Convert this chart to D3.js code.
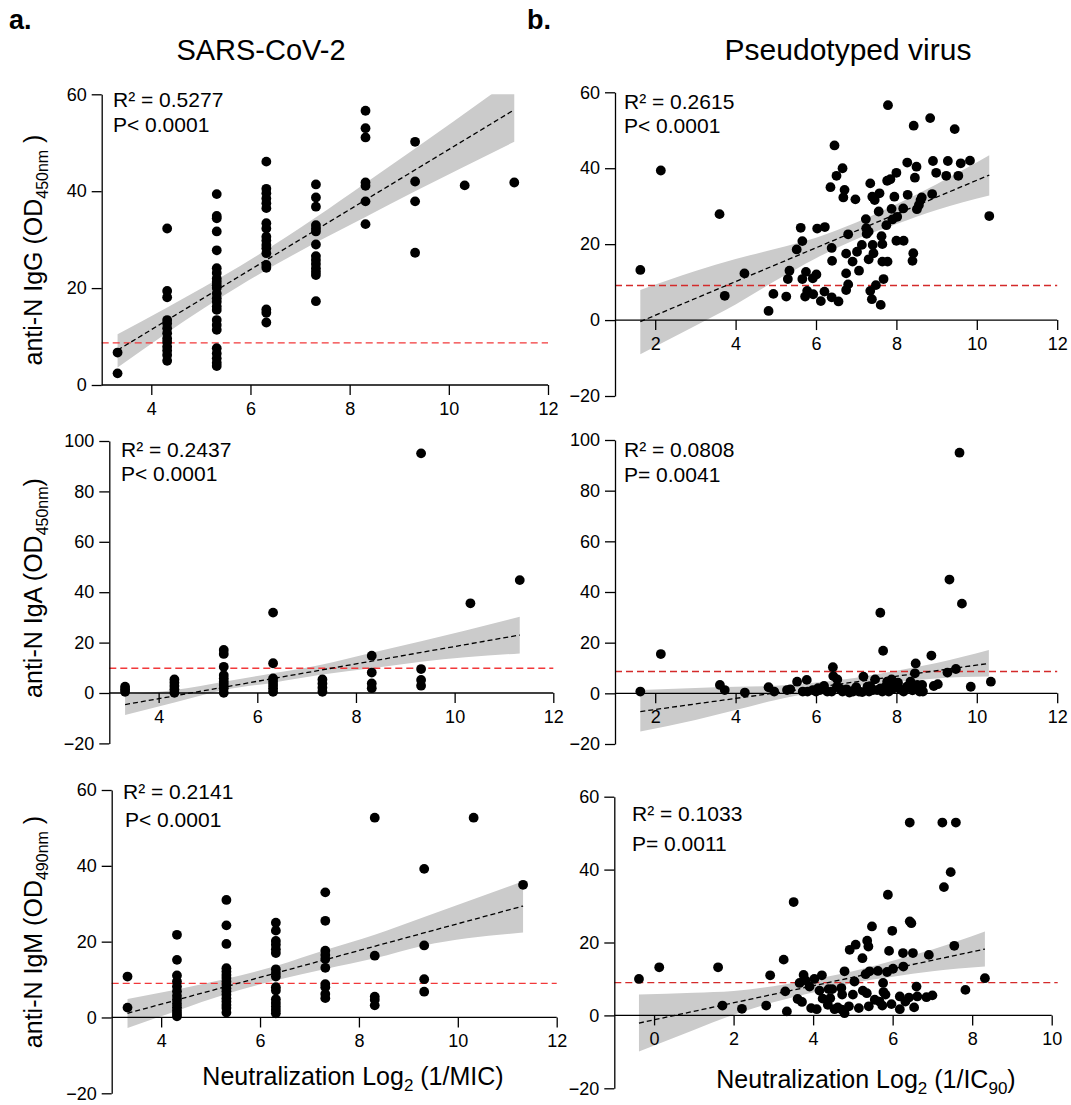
<!DOCTYPE html>
<html>
<head>
<meta charset="utf-8">
<script src="https://cdn.jsdelivr.net/npm/d3@7.9.0/dist/d3.min.js"></script>
<style>
  body { margin: 0; background: #fff; }
  svg { display: block; font-family: 'Liberation Sans', Arial, sans-serif; }
  .axis path, .axis line { stroke: #000; stroke-width: 1.3; }
  .axis text { font-family: 'Liberation Sans', Arial, sans-serif; font-size: 18px; fill: #000; }
</style>
</head>
<body>
<svg id="chart" width="1071" height="1105"></svg>
<script>
// ---- data ----
// SARS-CoV-2 panels: x is the log2 dilution column, y values per column
const micCols = [3.32, 4.32, 5.32, 6.32, 7.32, 8.32, 9.32, 10.32, 11.32];

const sarsIgG = [
  [6.7, 2.4],
  [32.3, 19.4, 18.1, 13.4, 12.7, 11.7, 10.7, 9.6, 8.9, 7.9, 7.1, 6.2, 5.0],
  [39.4, 34.9, 34.4, 31.7, 27.8, 24.1, 23.1, 22.0, 21.3, 20.6, 20.0, 18.9, 17.9, 17.2, 16.2, 15.5, 13.4, 12.4, 11.4, 7.6, 6.5, 5.5, 4.6, 3.9],
  [46.1, 40.5, 39.6, 38.5, 37.5, 36.5, 33.4, 32.3, 30.6, 29.8, 28.9, 28.2, 27.2, 24.8, 24.2, 15.6, 14.9, 12.9],
  [41.4, 38.7, 36.8, 33.0, 32.3, 31.7, 29.0, 26.6, 25.8, 25.0, 24.1, 23.4, 22.7, 17.3],
  [56.6, 53.0, 51.1, 41.8, 41.1, 37.9, 33.2],
  [50.2, 42.0, 37.9, 27.3],
  [41.2],
  [41.8]
];

const sarsIgA = [
  [2.5, 1.5, 0.5],
  [5.4, 4.1, 2.8, 1.5, 0.1],
  [17.1, 15.5, 10.4, 7.1, 5.8, 4.5, 3.2, 1.9, 0.1],
  [31.9, 11.8, 5.8, 4.5, 3.2, 1.9, 0.5],
  [5.4, 3.8, 2.1, 0.5],
  [14.8, 8.1, 3.8, 1.9],
  [95.1, 9.5, 5.2, 2.9],
  [35.6],
  [44.8]
];

const sarsIgM = [
  [10.8, 2.6],
  [21.8, 15.2, 11.1, 9.5, 8.2, 6.9, 5.7, 4.7, 3.6, 2.7, 1.8, 1.0, 0.3],
  [31.0, 24.3, 19.4, 13.0, 12.1, 11.2, 10.4, 9.5, 8.6, 7.7, 6.9, 6.0, 5.1, 4.2, 3.3, 2.5, 1.3],
  [25.0, 22.9, 20.2, 19.2, 18.0, 17.0, 12.7, 11.7, 10.8, 8.0, 7.1, 4.8, 3.8, 2.9, 2.0, 1.1],
  [33.0, 25.5, 17.6, 16.5, 15.4, 13.1, 8.8, 8.0, 6.2, 5.1],
  [52.7, 16.3, 5.5, 4.7, 3.2],
  [39.2, 19.0, 10.1, 6.8],
  [52.7],
  [35.0]
];

// Pseudotyped virus panels: [log2(1/IC90), OD]
const pseudoIgG = [
  [1.63, 13.2], [2.14, 39.4], [3.60, 27.9], [3.73, 6.4], [4.22, 12.3], [4.82, 2.4], [4.94, 6.9],
  [5.26, 6.2], [5.34, 13.0], [5.30, 10.8], [5.52, 18.6], [5.62, 24.3], [5.66, 20.8], [5.66, 10.8],
  [5.75, 12.7], [5.73, 6.2], [5.78, 7.7], [5.93, 6.8], [5.92, 11.0], [6.01, 12.0], [6.03, 24.1],
  [6.22, 24.5], [6.12, 5.0], [6.21, 7.5], [6.39, 19.0], [6.40, 15.6], [6.36, 35.0], [6.39, 6.0],
  [6.46, 46.0], [6.51, 38.0], [6.56, 4.9], [6.66, 40.0], [6.71, 34.3], [6.68, 32.3], [6.75, 17.5],
  [6.75, 12.3], [6.80, 9.4], [6.75, 7.9], [6.80, 22.6], [6.91, 15.4], [6.98, 31.8], [7.02, 18.0],
  [7.07, 13.0], [7.14, 19.8], [7.24, 26.6], [7.25, 24.2], [7.26, 22.7], [7.31, 23.3], [7.31, 16.0],
  [7.35, 36.0], [7.35, 7.7], [7.39, 5.5], [7.40, 32.5], [7.41, 19.8], [7.43, 17.6], [7.46, 31.6],
  [7.49, 9.2], [7.56, 28.6], [7.58, 33.4], [7.61, 4.0], [7.63, 22.1], [7.65, 20.0], [7.65, 15.4],
  [7.68, 10.8], [7.78, 15.4], [7.75, 25.0], [7.79, 56.6], [7.77, 36.7], [7.85, 37.1], [7.88, 29.3],
  [7.90, 26.5], [7.95, 32.5], [8.00, 38.8], [8.02, 27.2], [8.00, 20.9], [8.18, 20.9], [8.17, 29.4],
  [8.27, 41.5], [8.28, 33.0], [8.43, 51.2], [8.42, 17.6], [8.40, 15.6], [8.46, 37.5], [8.50, 40.4],
  [8.51, 29.2], [8.56, 30.3], [8.60, 31.6], [8.63, 32.3], [8.84, 53.2], [8.89, 33.2], [8.91, 41.9],
  [8.99, 38.8], [9.24, 38.0], [9.28, 41.9], [9.45, 50.3], [9.54, 38.0], [9.60, 41.3], [9.83, 42.0],
  [10.31, 27.4]
];

const pseudoIgA = [
  [1.63, 0.7], [2.14, 15.5], [3.61, 3.3], [3.73, 1.3], [4.23, 0.3], [4.82, 2.4], [4.96, 0.7],
  [5.28, 1.3], [5.36, 1.6], [5.53, 4.6], [5.67, 0.7], [5.77, 5.3], [5.79, 0.7], [5.92, 1.3],
  [6.00, 0.7], [6.05, 2.0], [6.10, 1.3], [6.20, 2.9], [6.28, 0.7], [6.39, 0.7], [6.42, 10.3],
  [6.43, 6.8], [6.53, 5.5], [6.52, 2.6], [6.60, 1.8], [6.66, 0.7], [6.76, 1.6], [6.83, 0.3],
  [6.92, 0.7], [6.95, 1.2], [7.00, 2.4], [7.07, 0.7], [7.15, 0.5], [7.18, 6.6], [7.28, 2.6],
  [7.32, 0.7], [7.35, 2.8], [7.42, 1.3], [7.47, 5.5], [7.52, 1.3], [7.60, 31.8], [7.60, 1.9],
  [7.65, 0.7], [7.67, 16.8], [7.73, 2.6], [7.77, 4.6], [7.81, 0.7], [7.85, 3.2], [7.88, 5.5],
  [7.94, 2.0], [8.04, 4.2], [8.10, 1.5], [8.18, 0.7], [8.26, 2.6], [8.35, 4.6], [8.40, 1.2],
  [8.46, 7.9], [8.48, 11.8], [8.52, 3.3], [8.58, 0.7], [8.64, 3.3], [8.66, 0.7], [8.87, 14.9],
  [8.93, 2.9], [9.03, 3.6], [9.27, 8.2], [9.32, 44.9], [9.48, 9.6], [9.57, 95.0], [9.63, 35.4],
  [9.85, 2.6], [10.35, 4.6]
];

const pseudoIgM = [
  [-0.38, 10.0], [0.13, 13.2], [1.61, 13.2], [1.72, 2.7], [2.21, 1.8], [2.82, 2.7], [2.92, 11.0],
  [3.26, 15.3], [3.30, 6.6], [3.34, 1.1], [3.51, 31.1], [3.61, 4.5], [3.66, 8.9], [3.72, 3.7],
  [3.76, 11.1], [3.81, 9.6], [3.91, 7.9], [3.95, 2.0], [4.03, 10.0], [4.09, 1.7], [4.16, 6.8],
  [4.22, 11.0], [4.24, 4.6], [4.37, 2.9], [4.39, 7.2], [4.48, 7.2], [4.43, 4.7], [4.54, 1.7],
  [4.62, 2.2], [4.71, 7.5], [4.73, 5.7], [4.72, 1.6], [4.79, 12.1], [4.79, 0.6], [4.90, 2.5],
  [4.92, 18.0], [5.00, 5.7], [5.04, 9.3], [5.07, 19.4], [5.15, 2.0], [5.24, 15.7], [5.25, 6.8],
  [5.32, 11.3], [5.35, 6.1], [5.36, 20.5], [5.39, 18.9], [5.40, 2.5], [5.42, 12.1], [5.48, 24.4],
  [5.55, 4.3], [5.63, 12.2], [5.67, 3.8], [5.74, 2.7], [5.76, 8.9], [5.77, 6.4], [5.82, 5.7],
  [5.86, 11.9], [5.88, 33.1], [5.91, 17.7], [5.97, 3.1], [5.99, 23.2], [6.01, 12.8], [6.18, 1.7],
  [6.18, 5.2], [6.26, 17.1], [6.27, 13.4], [6.32, 3.8], [6.41, 4.9], [6.43, 52.9], [6.43, 25.8],
  [6.47, 25.3], [6.51, 17.1], [6.54, 2.2], [6.60, 7.9], [6.62, 5.2], [6.85, 5.0], [6.91, 16.6],
  [7.00, 5.5], [7.25, 52.9], [7.29, 35.2], [7.46, 39.3], [7.55, 19.1], [7.59, 52.9], [7.83, 7.0],
  [8.32, 10.2]
];

// fitted lines [x, y] at both ends, and 95% band [x, lower, upper]
const fitSarsIgG = [[3.32, 7.2], [11.32, 56.8]];
const fitSarsIgA = [[3.32, -4.6], [11.32, 23.0]];
const fitSarsIgM = [[3.32, 1.1], [11.32, 29.4]];
const fitPseudoIgG = [[1.63, -0.4], [10.31, 38.2]];
const fitPseudoIgA = [[1.63, -7.2], [10.3, 11.8]];
const fitPseudoIgM = [[-0.38, -2.1], [8.32, 18.2]];

const bandSarsIgG = [[3.32, 3.6, 10.5], [4.32, 10.8, 16.0], [5.8, 20.6, 24.6], [7.32, 29.4, 34.6], [8.32, 34.7, 41.7], [9.32, 40.0, 48.8], [11.32, 50.2, 63.4]];
const bandSarsIgA = [[3.32, -8.7, -0.5], [4.32, -3.8, 1.2], [5.32, 1.2, 4.5], [6.32, 4.1, 7.8], [7.32, 7.3, 11.3], [8.32, 9.8, 16.0], [9.32, 12.4, 20.5], [11.32, 15.7, 30.3]];
const bandSarsIgM = [[3.32, -2.8, 4.9], [4.32, 1.8, 7.4], [5.32, 6.2, 10.2], [6.32, 9.8, 13.6], [7.32, 12.8, 17.8], [8.32, 15.6, 21.8], [9.32, 19.0, 26.5], [11.32, 22.4, 35.9]];
const bandPseudoIgG = [[1.63, -9.0, 7.9], [3, -1.5, 12.9], [4, 4.1, 16.1], [5, 10.4, 18.8], [6, 16.3, 21.7], [7, 21.3, 25.7], [8, 25.3, 30.5], [9, 29.0, 35.8], [10.31, 32.8, 43.4]];
const bandPseudoIgA = [[1.63, -15.1, 1.3], [3, -10.5, 2.1], [4, -6.6, 2.6], [5, -2.6, 3.0], [6, 0.4, 4.3], [7, 2.9, 6.2], [8, 4.6, 8.9], [9, 5.9, 12.0], [10.3, 6.6, 17.1]];
const bandPseudoIgM = [[-0.38, -9.9, 5.7], [1, -4.0, 6.2], [2, 0.2, 6.7], [3, 3.6, 8.0], [4, 6.3, 9.9], [5, 8.9, 12.1], [6, 10.6, 15.0], [7, 12.1, 18.1], [8.32, 13.4, 23.0]];

// cut-off values (red dashed lines)
const cutoffs = { sarsIgG: 8.7, sarsIgA: 9.8, sarsIgM: 9.0, pseudoIgG: 9.1, pseudoIgA: 8.6, pseudoIgM: 9.0 };

const stats = {
  sarsIgG: ['R\u00b2 = 0.5277', 'P< 0.0001'],
  sarsIgA: ['R\u00b2 = 0.2437', 'P< 0.0001'],
  sarsIgM: ['R\u00b2 = 0.2141', 'P< 0.0001'],
  pseudoIgG: ['R\u00b2 = 0.2615', 'P< 0.0001'],
  pseudoIgA: ['R\u00b2 = 0.0808', 'P= 0.0041'],
  pseudoIgM: ['R\u00b2 = 0.1033', 'P= 0.0011']
};

const xTicksSars = [4, 6, 8, 10, 12];
const xTicksPseudo = [2, 4, 6, 8, 10, 12];
const xTicksPseudoIgM = [0, 2, 4, 6, 8, 10];
const yTicks60 = [0, 20, 40, 60];
const yTicks100 = [-20, 0, 20, 40, 60, 80, 100];
const yTicksNeg60 = [-20, 0, 20, 40, 60];

function columnsToPoints(cols) {
  return cols.flatMap((ys, i) => ys.map((y) => [micCols[i], y]));
}

const svg = d3.select('#chart');

// panel layout
const panels = [
  { key: 'sarsIgG', points: columnsToPoints(sarsIgG), fit: fitSarsIgG, band: bandSarsIgG,
    left: 101.7, right: 548, top: 94.3, bottom: 385, xDomain: [3, 12], yDomain: [0, 60],
    xTicks: xTicksSars, yTicks: yTicks60, statX: 113, statY: 107, statGap: 25 },
  { key: 'sarsIgA', points: columnsToPoints(sarsIgA), fit: fitSarsIgA, band: bandSarsIgA,
    left: 109.3, right: 553.3, top: 441, bottom: 743.4, xDomain: [3, 12], yDomain: [-20, 100],
    xTicks: xTicksSars, yTicks: yTicks100, statX: 121, statY: 457, statGap: 24 },
  { key: 'sarsIgM', points: columnsToPoints(sarsIgM), fit: fitSarsIgM, band: bandSarsIgM,
    left: 111.7, right: 556.7, top: 790, bottom: 1093.3, xDomain: [3, 12], yDomain: [-20, 60],
    xTicks: xTicksSars, yTicks: yTicksNeg60, statX: 123, statY: 799, statGap: 28 },
  { key: 'pseudoIgG', points: pseudoIgG, fit: fitPseudoIgG, band: bandPseudoIgG,
    left: 615, right: 1057.2, top: 92.3, bottom: 396, xDomain: [1, 12], yDomain: [-20, 60],
    xTicks: xTicksPseudo, yTicks: yTicksNeg60, statX: 624, statY: 109, statGap: 24 },
  { key: 'pseudoIgA', points: pseudoIgA, fit: fitPseudoIgA, band: bandPseudoIgA,
    left: 615, right: 1057.2, top: 440, bottom: 744, xDomain: [1, 12], yDomain: [-20, 100],
    xTicks: xTicksPseudo, yTicks: yTicks100, statX: 624, statY: 457, statGap: 25 },
  { key: 'pseudoIgM', points: pseudoIgM, fit: fitPseudoIgM, band: bandPseudoIgM,
    left: 614.3, right: 1051.7, top: 796.7, bottom: 1088.3, xDomain: [-1, 10], yDomain: [-20, 60],
    xTicks: xTicksPseudoIgM, yTicks: yTicksNeg60, statX: 632, statY: 821, statGap: 30 }
];

function drawPanel(p, i) {
  const x = d3.scaleLinear().domain(p.xDomain).range([p.left, p.right]);
  const y = d3.scaleLinear().domain(p.yDomain).range([p.bottom, p.top]);
  const g = svg.append('g');

  const clipId = 'clip' + i;
  g.append('clipPath').attr('id', clipId)
    .append('rect')
    .attr('x', p.left).attr('y', p.top)
    .attr('width', p.right - p.left).attr('height', p.bottom - p.top);

  // confidence band
  const area = d3.area()
    .x((d) => x(d[0]))
    .y0((d) => y(d[1]))
    .y1((d) => y(d[2]))
    .curve(d3.curveMonotoneX);
  g.append('path')
    .datum(p.band)
    .attr('clip-path', `url(#${clipId})`)
    .attr('fill', '#cbcbcb')
    .attr('d', area);

  // cut-off
  const isPseudo = p.key.startsWith('pseudo');
  g.append('line')
    .attr('x1', p.left).attr('x2', p.right + (p.key === 'pseudoIgM' ? 6 : 0))
    .attr('y1', y(cutoffs[p.key])).attr('y2', y(cutoffs[p.key]))
    .attr('stroke', isPseudo ? '#d42a2a' : '#f2383a')
    .attr('stroke-width', 1.4)
    .attr('stroke-dasharray', '7,4');

  // axes
  g.append('g')
    .attr('class', 'axis')
    .attr('transform', `translate(0,${y(0)})`)
    .call(d3.axisBottom(x).tickValues(p.xTicks).tickSize(10).tickPadding(7).tickSizeOuter(0))
    .call((a) => a.select('.domain').attr('d', `M${p.left},0H${p.right}`));

  g.append('g')
    .attr('class', 'axis')
    .attr('transform', `translate(${p.left},0)`)
    .call(d3.axisLeft(y).tickValues(p.yTicks).tickSize(10).tickPadding(5).tickSizeOuter(0));

  // dots
  g.append('g')
    .selectAll('circle')
    .data(p.points)
    .join('circle')
    .attr('cx', (d) => x(d[0]))
    .attr('cy', (d) => y(d[1]))
    .attr('r', 4.9)
    .attr('fill', '#000');

  // regression line
  g.append('line')
    .attr('x1', x(p.fit[0][0])).attr('y1', y(p.fit[0][1]))
    .attr('x2', x(p.fit[1][0])).attr('y2', y(p.fit[1][1]))
    .attr('stroke', '#000')
    .attr('stroke-width', 1.3)
    .attr('stroke-dasharray', '5,3');

  // stats text
  const st = g.append('text')
    .attr('font-size', 21)
    .attr('fill', '#000');
  st.append('tspan').attr('x', p.statX).attr('y', p.statY).text(stats[p.key][0]);
  st.append('tspan').attr('x', p.statX + (p.key === 'sarsIgM' ? 2 : 0)).attr('y', p.statY + p.statGap).text(stats[p.key][1]);
}

panels.forEach(drawPanel);

// panel letters and column titles
svg.append('text').attr('x', 9).attr('y', 29).attr('font-size', 27).attr('font-weight', 'bold').text('a.');
svg.append('text').attr('x', 527).attr('y', 29).attr('font-size', 27).attr('font-weight', 'bold').text('b.');
svg.append('text').attr('x', 261).attr('y', 60).attr('font-size', 29).attr('text-anchor', 'middle').text('SARS-CoV-2');
svg.append('text').attr('x', 848).attr('y', 60).attr('font-size', 30).attr('text-anchor', 'middle').text('Pseudotyped virus');

// y-axis labels
const yLabels = [
  { pre: 'anti-N IgG (OD', sub: '450nm', post: ' )', cy: 250 },
  { pre: 'anti-N IgA (OD', sub: '450nm', post: ')', cy: 588 },
  { pre: 'anti-N IgM (OD', sub: '490nm', post: ' )', cy: 932 }
];
yLabels.forEach((l) => {
  const t = svg.append('text')
    .attr('transform', `translate(42,${l.cy}) rotate(-90)`)
    .attr('text-anchor', 'middle')
    .attr('font-size', 25);
  t.append('tspan').text(l.pre);
  t.append('tspan').attr('font-size', 16).attr('dy', 6).text(l.sub);
  t.append('tspan').attr('dy', -6).text(l.post);
});

// x-axis labels
const xl1 = svg.append('text').attr('x', 353).attr('y', 1085).attr('font-size', 25).attr('text-anchor', 'middle');
xl1.append('tspan').text('Neutralization Log');
xl1.append('tspan').attr('font-size', 17).attr('dy', 6).text('2');
xl1.append('tspan').attr('dy', -6).text(' (1/MIC)');

const xl2 = svg.append('text').attr('x', 866).attr('y', 1088).attr('font-size', 25).attr('text-anchor', 'middle');
xl2.append('tspan').text('Neutralization Log');
xl2.append('tspan').attr('font-size', 17).attr('dy', 6).text('2');
xl2.append('tspan').attr('dy', -6).text(' (1/IC');
xl2.append('tspan').attr('font-size', 17).attr('dy', 6).text('90');
xl2.append('tspan').attr('dy', -6).text(')');
</script>
</body>
</html>
